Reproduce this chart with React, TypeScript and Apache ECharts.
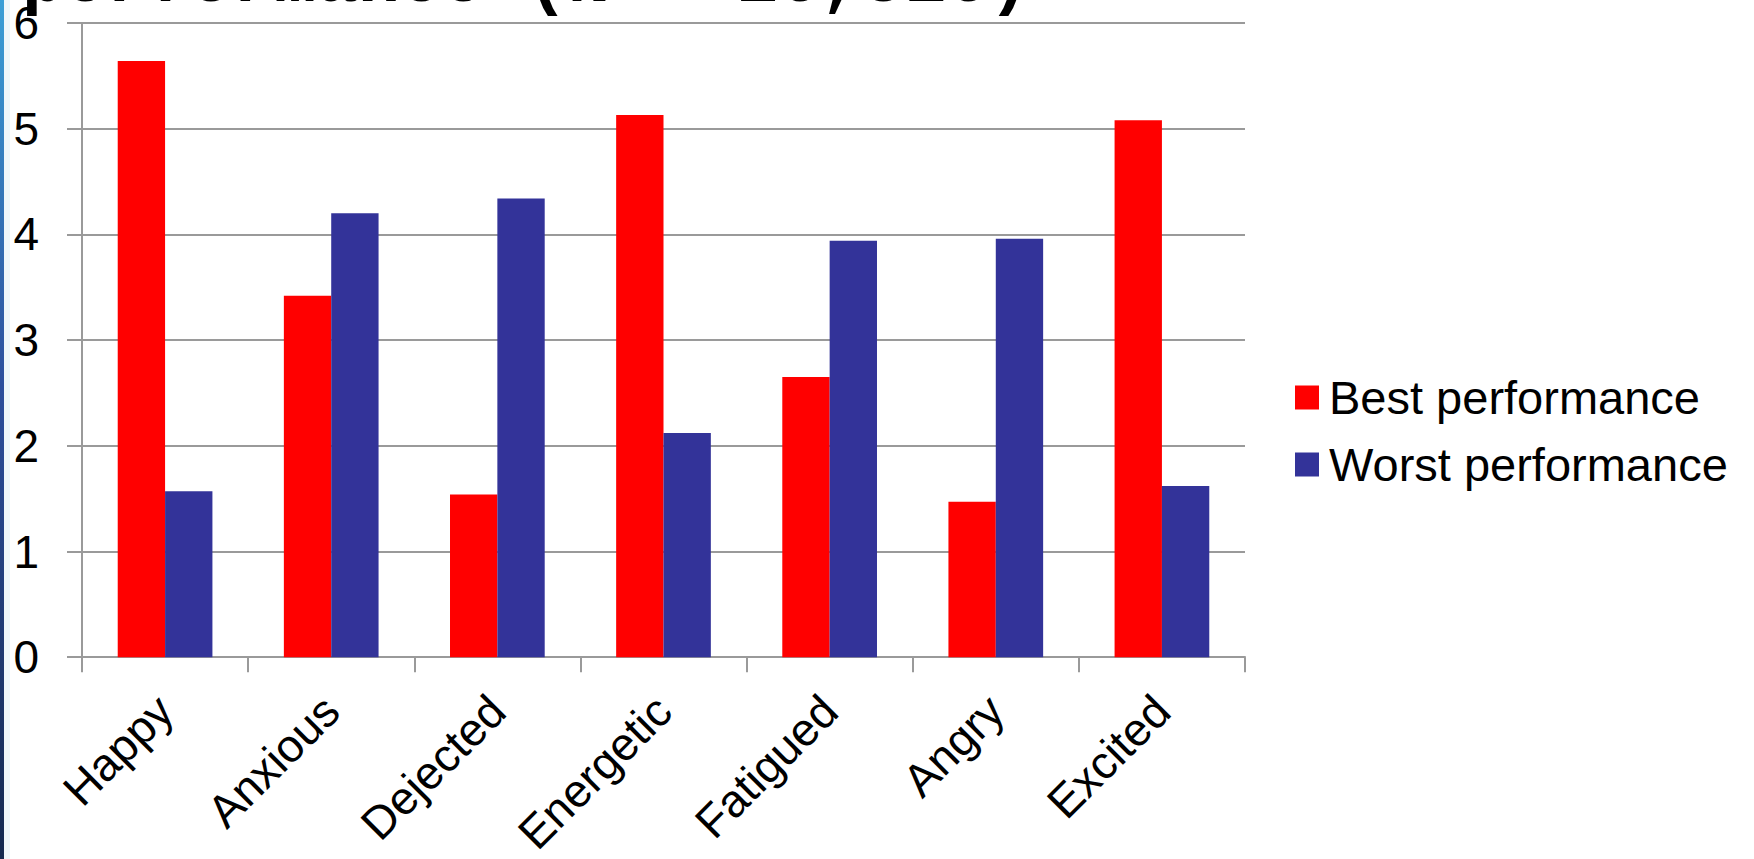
import React, { useEffect, useRef } from "react";
import * as echarts from "echarts";

const categories = ["Happy", "Anxious", "Dejected", "Energetic", "Fatigued", "Angry", "Excited"];
const bestPerformance = [5.64, 3.42, 1.54, 5.13, 2.65, 1.47, 5.08];
const worstPerformance = [1.57, 4.2, 4.34, 2.12, 3.94, 3.96, 1.62];
const seriesNames = ["Best performance", "Worst performance"];
const titleText = "performance (N = 16,816)";

const SANS = "Arial, 'Liberation Sans', Helvetica, sans-serif";
const MONO = "'Courier New', 'Liberation Mono', monospace";
const GRID_COLOR = "#9a9a9a";

export default function App() {
  const ref = useRef<HTMLDivElement>(null);

  useEffect(() => {
    if (!ref.current) return;
    const chart = echarts.init(ref.current, undefined, { renderer: "svg" });
    chart.setOption({
      animation: false,
      backgroundColor: "#ffffff",
      grid: { left: 82, right: 509, top: 19, bottom: 200, containLabel: false },
      legend: {
        orient: "vertical",
        left: 1290,
        top: 369,
        icon: "rect",
        itemWidth: 24,
        itemHeight: 24,
        itemGap: 20,
        textStyle: {
          fontFamily: SANS,
          fontSize: 47,
          lineHeight: 47,
          color: "#000",
          padding: [0, 0, 0, 5],
        },
        data: seriesNames,
      },
      xAxis: {
        type: "category",
        data: categories,
        boundaryGap: true,
        axisLine: { show: true, lineStyle: { color: GRID_COLOR, width: 2 } },
        axisTick: { show: true, length: 15, lineStyle: { color: GRID_COLOR, width: 2 } },
        axisLabel: {
          rotate: 45,
          margin: 46,
          interval: 0,
          fontFamily: SANS,
          fontSize: 46,
          color: "#000",
        },
      },
      yAxis: {
        type: "value",
        min: 0,
        max: 6,
        interval: 1,
        axisLine: { show: true, lineStyle: { color: GRID_COLOR, width: 2 } },
        axisTick: { show: true, length: 15, lineStyle: { color: GRID_COLOR, width: 2 } },
        splitLine: { show: true, lineStyle: { color: GRID_COLOR, width: 2 } },
        axisLabel: {
          margin: 43,
          fontFamily: SANS,
          fontSize: 46,
          color: "#000",
        },
      },
      series: [
        {
          name: seriesNames[0],
          type: "bar",
          data: bestPerformance,
          barGap: "0%",
          barCategoryGap: "43%",
          itemStyle: { color: "#ff0000" },
        },
        {
          name: seriesNames[1],
          type: "bar",
          data: worstPerformance,
          barGap: "0%",
          barCategoryGap: "43%",
          itemStyle: { color: "#333399" },
        },
      ],
      graphic: [
        {
          type: "rect",
          left: 0,
          top: 0,
          shape: { x: 0, y: 0, width: 10, height: 859 },
          style: { fill: "#eef7fa" },
          z: 10,
        },
        {
          type: "rect",
          left: 0,
          top: 0,
          shape: { x: 0, y: 0, width: 4, height: 859 },
          style: {
            fill: new echarts.graphic.LinearGradient(0, 0, 0, 1, [
              { offset: 0, color: "#3a9fd6" },
              { offset: 0.45, color: "#2c4f9c" },
              { offset: 1, color: "#13294f" },
            ]),
          },
          z: 11,
        },
        {
          type: "text",
          x: 22,
          y: -18,
          style: {
            text: titleText,
            fontFamily: MONO,
            fontWeight: "bold",
            fontSize: 70,
            fill: "#000",
            align: "left",
            verticalAlign: "middle",
          },
          z: 12,
        },
      ],
    });
    return () => chart.dispose();
  }, []);

  return (
    <div
      ref={ref}
      style={{ position: "fixed", left: 0, top: 0, width: 1754, height: 859, background: "#fff" }}
    />
  );
}
